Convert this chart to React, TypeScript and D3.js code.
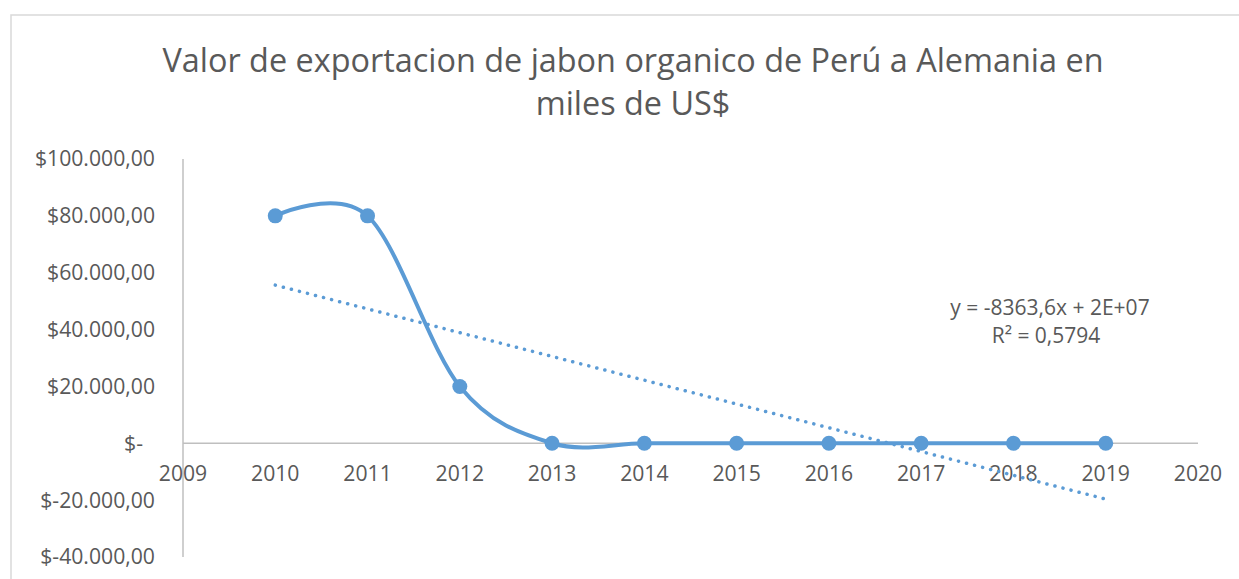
import React, { useEffect, useRef } from "react";
import * as d3 from "d3";

// values
const years = [2010, 2011, 2012, 2013, 2014, 2015, 2016, 2017, 2018, 2019];
const values = [80000, 80000, 20000, 0, 0, 0, 0, 0, 0, 0];
const xTicks = [2009, 2010, 2011, 2012, 2013, 2014, 2015, 2016, 2017, 2018, 2019, 2020];
const yTicks = [100000, 80000, 60000, 40000, 20000, 0, -20000, -40000];
const titleLines = ["Valor de exportacion de jabon organico de Perú a Alemania en", "miles de US$"];
const trendLabel = ["y = -8363,6x + 2E+07", "R² = 0,5794"];

const FONT = "'Open Sans', 'Noto Sans', sans-serif";
const TEXT = "#595959";
const AXIS = "#bfbfbf";
const BLUE = "#5b9bd5";

function fmtMoney(v: number) {
  if (v === 0) return "$-";
  const s = Math.abs(v)
    .toFixed(2)
    .replace(".", ",")
    .replace(/\B(?=(\d{3})+(?!\d))/g, ".");
  return v < 0 ? "$-" + s : "$" + s;
}

export default function App() {
  const ref = useRef<SVGSVGElement>(null);

  useEffect(() => {
    const svg = d3.select(ref.current);
    svg.selectAll("*").remove();

    const width = 1239;
    const height = 579;

    svg.attr("width", width).attr("height", height);

    svg.append("rect").attr("width", width).attr("height", height).attr("fill", "#fff");
    // chart frame
    svg.append("rect")
      .attr("x", 11).attr("y", 15)
      .attr("width", width).attr("height", height)
      .attr("fill", "none").attr("stroke", "#d9d9d9").attr("stroke-width", 1.5);

    const x = d3.scaleLinear().domain([2009, 2020]).range([183, 1198]);
    const y = d3.scaleLinear().domain([-40000, 100000]).range([557, 159]);

    // title
    const title = svg.append("text")
      .attr("text-anchor", "middle")
      .attr("fill", TEXT)
      .style("font-family", FONT)
      .style("font-size", "32.4px");
    titleLines.forEach((t, i) => {
      title.append("tspan").attr("x", 633).attr("y", 72 + i * 43).text(t);
    });

    // y axis
    svg.append("line")
      .attr("x1", x(2009)).attr("x2", x(2009))
      .attr("y1", y(100000)).attr("y2", y(-40000))
      .attr("stroke", AXIS).attr("stroke-width", 1.5);
    svg.append("g").selectAll("text").data(yTicks).enter().append("text")
      .attr("x", d => (d === 0 ? 143 : 155))
      .attr("y", d => y(d))
      .attr("dy", "0.35em")
      .attr("text-anchor", "end")
      .attr("fill", TEXT)
      .style("font-family", FONT)
      .style("font-size", "21.2px")
      .text(d => fmtMoney(d));

    // x axis at zero
    svg.append("line")
      .attr("x1", x(2009)).attr("x2", x(2020))
      .attr("y1", y(0)).attr("y2", y(0))
      .attr("stroke", AXIS).attr("stroke-width", 1.5);
    svg.append("g").selectAll("text").data(xTicks).enter().append("text")
      .attr("x", d => x(d))
      .attr("y", y(0) + 38)
      .attr("text-anchor", "middle")
      .attr("fill", TEXT)
      .style("font-family", FONT)
      .style("font-size", "21.2px")
      .text(d => String(d));

    const pts: [number, number][] = years.map((yr, i) => [yr, values[i]]);

    // linear trendline (least squares)
    const mx = d3.mean(years) as number;
    const my = d3.mean(values) as number;
    const slope =
      d3.sum(pts, p => (p[0] - mx) * (p[1] - my)) / d3.sum(pts, p => (p[0] - mx) ** 2);
    const icpt = my - slope * mx;
    const ends = [years[0], years[years.length - 1]];
    svg.append("path")
      .attr("d", d3.line<number>().x(d => x(d)).y(d => y(slope * d + icpt))(ends) as string)
      .attr("fill", "none")
      .attr("stroke", BLUE)
      .attr("stroke-width", 3.5)
      .attr("stroke-linecap", "round")
      .attr("stroke-dasharray", "0.1 8.2");

    // smoothed series line
    const line = d3.line<[number, number]>()
      .x(d => x(d[0]))
      .y(d => y(d[1]))
      .curve(d3.curveCardinal.tension(0));
    svg.append("path")
      .attr("d", line(pts) as string)
      .attr("fill", "none")
      .attr("stroke", BLUE)
      .attr("stroke-width", 4)
      .attr("stroke-linecap", "round");

    svg.append("g").selectAll("circle").data(pts).enter().append("circle")
      .attr("cx", d => x(d[0]))
      .attr("cy", d => y(d[1]))
      .attr("r", 7.5)
      .attr("fill", BLUE);

    // trendline label
    const lbl = svg.append("text")
      .attr("text-anchor", "middle")
      .attr("fill", TEXT)
      .style("font-family", FONT)
      .style("font-size", "21px");
    trendLabel.forEach((t, i) => {
      lbl.append("tspan").attr("x", i === 0 ? 1050 : 1046).attr("y", 315 + i * 28).text(t);
    });
  }, []);

  return (
    <svg
      ref={ref}
      style={{ position: "absolute", left: 0, top: 0, display: "block" }}
    />
  );
}
